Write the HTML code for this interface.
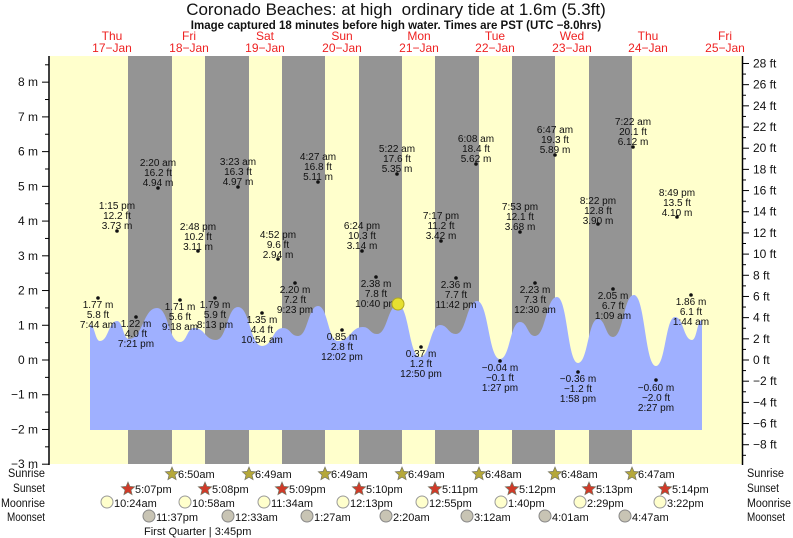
<!DOCTYPE html>
<html><head><meta charset="utf-8"><style>
body{margin:0;background:#fff;}
svg{display:block;font-family:"Liberation Sans",sans-serif;}
</style></head><body>
<svg id="s" width="793" height="538" xmlns="http://www.w3.org/2000/svg">
<rect x="50" y="56" width="692" height="408" fill="#ffffcc"/>
<g id="bands" fill="#949494"></g>
<path id="water" fill="#9fb0ff"/>
<g id="marks" font-size="10" fill="#111" text-anchor="middle"></g>
<circle cx="398" cy="304" r="6" fill="#e6e030" stroke="#b0a820" stroke-width="1"/>
<line x1="49" y1="56" x2="49" y2="465" stroke="#000" stroke-width="1.5"/>
<line x1="742.5" y1="56" x2="742.5" y2="465" stroke="#000" stroke-width="1.5"/>
<g id="axes" font-size="12" fill="#111"></g>
<text x="396" y="15" font-size="17" text-anchor="middle" fill="#111" style="white-space:pre">Coronado Beaches: at high&#160; ordinary tide at 1.6m (5.3ft)</text>
<text x="396" y="29" font-size="11.5" font-weight="bold" text-anchor="middle" fill="#111">Image captured 18 minutes before high water. Times are PST (UTC −8.0hrs)</text>
<g id="days" font-size="12" fill="#ee2222" text-anchor="middle"></g>
<g id="bot" font-size="11" fill="#111"></g>
<g font-size="11.5" fill="#111">
<text x="8" y="477" textLength="37" lengthAdjust="spacingAndGlyphs">Sunrise</text><text x="13" y="492" textLength="32" lengthAdjust="spacingAndGlyphs">Sunset</text>
<text x="1" y="507" textLength="44" lengthAdjust="spacingAndGlyphs">Moonrise</text><text x="7" y="521" textLength="38" lengthAdjust="spacingAndGlyphs">Moonset</text>
<text x="747" y="477" textLength="37" lengthAdjust="spacingAndGlyphs">Sunrise</text><text x="747" y="492" textLength="32" lengthAdjust="spacingAndGlyphs">Sunset</text>
<text x="747" y="507" textLength="44" lengthAdjust="spacingAndGlyphs">Moonrise</text><text x="747" y="521" textLength="38" lengthAdjust="spacingAndGlyphs">Moonset</text>
</g>
<text x="144" y="535" font-size="11" fill="#111">First Quarter | 3:45pm</text>
</svg>
<script>
const NS="http://www.w3.org/2000/svg";
function el(p,t,a,txt){const e=document.createElementNS(NS,t);for(const k in a)e.setAttribute(k,a[k]);if(txt!==undefined)e.textContent=txt;document.getElementById(p).appendChild(e);return e;}
[[128,172],[205,249],[282,325],[359,402],[435,479],[512,555],[589,632]].forEach(b=>el('bands','rect',{x:b[0],y:56,width:b[1]-b[0],height:408}));
const P=[[90,325],[100,341],[117,321],[129,339],[157,308],[180,342],[194,328],[216,340],[238,307],[262,346],[283,328],[298,336],[318,306],[338,341],[363,327],[377,334],[398,305],[420,357],[440,325],[456,334],[477,301],[500,359],[520,322],[535,336],[557,297],[578,363],[598,319],[613,337],[634,295],[656,366],[675,317],[692,340],[702,320]];
let d="M90 430 L90 325";
for(let i=1;i<P.length;i++){const a=P[i-1],b=P[i],m=(a[0]+b[0])/2;d+=` C${m} ${a[1]} ${m} ${b[1]} ${b[0]} ${b[1]}`;}
d+=" L702 430 Z";document.getElementById('water').setAttribute('d',d);
const M=[[98,298,["1.77 m","5.8 ft","7:44 am"],308],[117,231,["1:15 pm","12.2 ft","3.73 m"],209],[136,317,["1.22 m","4.0 ft","7:21 pm"],327],[158,188,["2:20 am","16.2 ft","4.94 m"],166],[198,251,["2:48 pm","10.2 ft","3.11 m"],230],[180,300,["1.71 m","5.6 ft","9:18 am"],310],[215,298,["1.79 m","5.9 ft","8:13 pm"],308],[238,187,["3:23 am","16.3 ft","4.97 m"],165],[262,313,["1.35 m","4.4 ft","10:54 am"],323],[278,259,["4:52 pm","9.6 ft","2.94 m"],238],[295,283,["2.20 m","7.2 ft","9:23 pm"],293],[318,182,["4:27 am","16.8 ft","5.11 m"],160],[342,330,["0.85 m","2.8 ft","12:02 pm"],340],[362,251,["6:24 pm","10.3 ft","3.14 m"],229],[376,277,["2.38 m","7.8 ft","10:40 pm"],287],[397,174,["5:22 am","17.6 ft","5.35 m"],152],[421,347,["0.37 m","1.2 ft","12:50 pm"],357],[441,241,["7:17 pm","11.2 ft","3.42 m"],219],[456,278,["2.36 m","7.7 ft","11:42 pm"],288],[476,164,["6:08 am","18.4 ft","5.62 m"],142],[500,361,["−0.04 m","−0.1 ft","1:27 pm"],371],[520,232,["7:53 pm","12.1 ft","3.68 m"],210],[535,283,["2.23 m","7.3 ft","12:30 am"],293],[555,155,["6:47 am","19.3 ft","5.89 m"],133],[578,372,["−0.36 m","−1.2 ft","1:58 pm"],382],[598,224,["8:22 pm","12.8 ft","3.90 m"],204],[613,289,["2.05 m","6.7 ft","1:09 am"],299],[633,147,["7:22 am","20.1 ft","6.12 m"],125],[656,380,["−0.60 m","−2.0 ft","2:27 pm"],391],[677,217,["8:49 pm","13.5 ft","4.10 m"],196],[691,295,["1.86 m","6.1 ft","1:44 am"],305]];
M.forEach(m=>{el('marks','circle',{cx:m[0],cy:m[1],r:1.8});m[2].forEach((t,i)=>el('marks','text',{x:m[0],y:m[3]+i*10},t));});
for(let v=-3;v<=8.5;v+=0.5){const y=360-v*34.73;const maj=Number.isInteger(v);el('axes','line',{x1:maj?42:45,y1:y,x2:49,y2:y,stroke:'#000','stroke-width':1});if(maj)el('axes','text',{x:38,y:y+4,'text-anchor':'end'},(v<0?'−':'')+Math.abs(v)+' m');}
for(let f=-9;f<=28;f++){const y=360-f*10.59;if(y<56)continue;const maj=f%2==0;el('axes','line',{x1:742,y1:y,x2:maj?749:746,y2:y,stroke:'#000','stroke-width':1});if(maj)el('axes','text',{x:753,y:y+4},(f<0?'−':'')+Math.abs(f)+' ft');}
[["Thu","17−Jan",112],["Fri","18−Jan",189],["Sat","19−Jan",265],["Sun","20−Jan",342],["Mon","21−Jan",419],["Tue","22−Jan",495],["Wed","23−Jan",572],["Thu","24−Jan",648],["Fri","25−Jan",725]].forEach(d=>{el('days','text',{x:d[2],y:40},d[0]);el('days','text',{x:d[2],y:52},d[1]);});
function star(x,y,fill){let p=[];for(let i=0;i<10;i++){const r=i%2?3.2:7,a=-Math.PI/2+i*Math.PI/5;p.push((x+r*Math.cos(a)).toFixed(1)+','+(y+r*Math.sin(a)).toFixed(1));}el('bot','polygon',{points:p.join(' '),fill:fill,stroke:'#776','stroke-width':0.7});}
const sr=[[172,"6:50am"],[249,"6:49am"],[325,"6:49am"],[402,"6:49am"],[479,"6:48am"],[555,"6:48am"],[632,"6:47am"]];
sr.forEach(s=>{star(s[0],474,'#b5a83a');el('bot','text',{x:s[0]+6,y:478},s[1]);});
const ss=[[128,"5:07pm"],[205,"5:08pm"],[282,"5:09pm"],[359,"5:10pm"],[435,"5:11pm"],[512,"5:12pm"],[589,"5:13pm"],[665,"5:14pm"]];
ss.forEach(s=>{star(s[0],489,'#d03a28');el('bot','text',{x:s[0]+7,y:493},s[1]);});
const mr=[[107,"10:24am"],[185,"10:58am"],[264,"11:34am"],[343,"12:13pm"],[422,"12:55pm"],[501,"1:40pm"],[580,"2:29pm"],[660,"3:22pm"]];
mr.forEach(s=>{el('bot','circle',{cx:s[0],cy:502,r:6,fill:'#ffffcc',stroke:'#999'});el('bot','text',{x:s[0]+7,y:507},s[1]);});
const ms=[[149,"11:37pm"],[228,"12:33am"],[307,"1:27am"],[386,"2:20am"],[467,"3:12am"],[545,"4:01am"],[625,"4:47am"]];
ms.forEach(s=>{el('bot','circle',{cx:s[0],cy:516,r:6,fill:'#c8c4b4',stroke:'#888'});el('bot','text',{x:s[0]+7,y:521},s[1]);});
</script>
</body></html>
